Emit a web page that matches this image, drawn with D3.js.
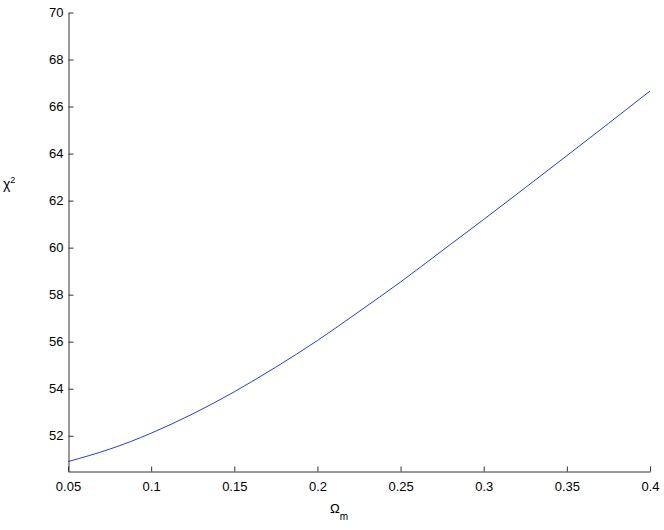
<html>
<head>
<script src="https://d3js.org/d3.v7.min.js"></script>
<style>
  body { margin: 0; background: #fff; }
  text { font-family: "Liberation Sans", Arial, sans-serif; }
</style>
</head>
<body>
<div id="chart"></div>
<script>
// values
var omegaM = [0.05, 0.075, 0.1, 0.125, 0.15, 0.175, 0.2, 0.225, 0.25, 0.275, 0.3, 0.325, 0.35, 0.375, 0.4];
var chi2 = [50.90, 51.43, 52.11, 52.93, 53.87, 54.92, 56.05, 57.28, 58.54, 59.87, 61.20, 62.55, 63.91, 65.28, 66.66];
var xTicks = [0.05, 0.1, 0.15, 0.2, 0.25, 0.3, 0.35, 0.4];
var yTicks = [52, 54, 56, 58, 60, 62, 64, 66, 68, 70];

var width = 664, height = 530;
var svg = d3.select("#chart").append("svg")
  .attr("width", width).attr("height", height);

var x = d3.scaleLinear().domain([0.05, 0.4]).range([68, 650]);
var y = d3.scaleLinear().domain([50.48, 70]).range([471.5, 12.5]);

// axes, ticks pointing inward
var xAxis = svg.append("g")
  .attr("transform", "translate(0,471.5)")
  .call(d3.axisBottom(x).tickValues(xTicks).tickSizeInner(-5).tickSizeOuter(0)
    .tickFormat(function(d){ return String(+d.toFixed(2)); }));
var yAxis = svg.append("g")
  .attr("transform", "translate(68.5,0)")
  .call(d3.axisLeft(y).tickValues(yTicks).tickSizeInner(-5).tickSizeOuter(0));

svg.selectAll(".domain").attr("stroke", "#333");
svg.selectAll(".tick line").attr("stroke", "#333");
svg.selectAll(".tick text")
  .style("font-size", "13px")
  .attr("fill", "#000");
xAxis.selectAll(".tick text").attr("y", 10).attr("dy", "0.71em");
yAxis.selectAll(".tick text").attr("x", -5);

// curve
var line = d3.line()
  .x(function(d, i){ return x(omegaM[i]); })
  .y(function(d){ return y(d); })
  .curve(d3.curveNatural);

svg.append("path")
  .datum(chi2)
  .attr("fill", "none")
  .attr("stroke", "#1f3cff")
  .attr("stroke-width", 1)
  .attr("d", line);

// axis labels
var yl = svg.append("text").attr("x", 3).attr("y", 189).style("font-size", "14px");
yl.append("tspan").text("\u03c7");
yl.append("tspan").attr("dy", -6).style("font-size", "9px").text("2");

var xl = svg.append("text").attr("x", 330).attr("y", 513).style("font-size", "13px");
xl.append("tspan").text("\u03a9");
xl.append("tspan").attr("dy", 7).style("font-size", "10px").text("m");
</script>
</body>
</html>
